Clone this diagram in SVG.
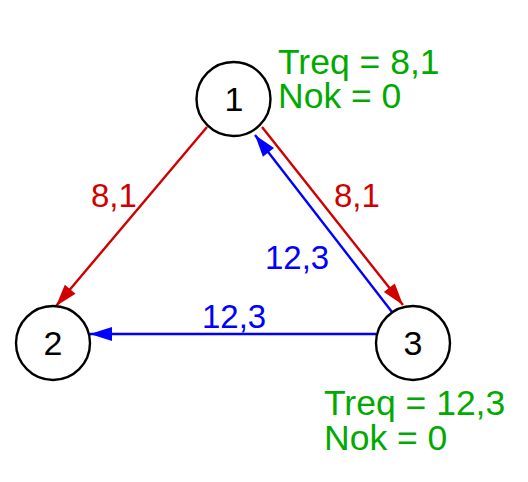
<svg xmlns="http://www.w3.org/2000/svg" width="528" height="482" viewBox="0 0 528 482">
<style>
.node circle{fill:#fff;stroke:#000;stroke-width:2.4}
.node text{font-family:"Liberation Sans",Arial,sans-serif;font-size:34px;fill:#000;text-anchor:middle}
.lbl{font-family:"Liberation Sans",Arial,sans-serif;font-size:33px}
.info{font-family:"Liberation Sans",Arial,sans-serif;font-size:35.5px;fill:#00aa00}
.red{stroke:#d00000;stroke-width:2.4;fill:none}
.blue{stroke:#0000ff;stroke-width:2.4;fill:none}
</style>
<defs>
<marker id="ar" markerUnits="userSpaceOnUse" markerWidth="26" markerHeight="18" refX="24" refY="8" orient="auto" viewBox="0 0 26 16"><path d="M24,8 L2,1 L2,15 z" fill="#d00000"/></marker>
<marker id="ab" markerUnits="userSpaceOnUse" markerWidth="26" markerHeight="18" refX="24" refY="8" orient="auto" viewBox="0 0 26 16"><path d="M24,8 L2,1 L2,15 z" fill="#0000ff"/></marker>
</defs>
<g id="connectors">
<line class="red" x1="207" y1="127" x2="56" y2="306" marker-end="url(#ar)"/>
<line class="red" x1="262" y1="127" x2="403" y2="305" marker-end="url(#ar)"/>
<line class="blue" x1="392" y1="312" x2="255" y2="135" marker-end="url(#ab)"/>
<line class="blue" x1="376" y1="334" x2="90" y2="334" marker-end="url(#ab)"/>
<text class="lbl" x="91" y="207" fill="#d00000">8,1</text>
<text class="lbl" x="334" y="207" fill="#d00000">8,1</text>
<text class="lbl" x="265" y="269" fill="#0000ff">12,3</text>
<text class="lbl" x="202" y="328" fill="#0000ff">12,3</text>
</g>
<g id="node1" class="node"><circle cx="233.5" cy="99" r="37"/><text x="234" y="111">1</text></g>
<g id="node2" class="node"><circle cx="53" cy="343" r="37"/><text x="53" y="355">2</text></g>
<g id="node3" class="node"><circle cx="413" cy="343" r="37"/><text x="413" y="355">3</text></g>
<g id="info1"><text class="info" x="278" y="74">Treq = 8,1</text><text class="info" x="278" y="108">Nok = 0</text></g>
<g id="info3"><text class="info" x="324" y="415">Treq = 12,3</text><text class="info" x="324" y="450">Nok = 0</text></g>
</svg>
